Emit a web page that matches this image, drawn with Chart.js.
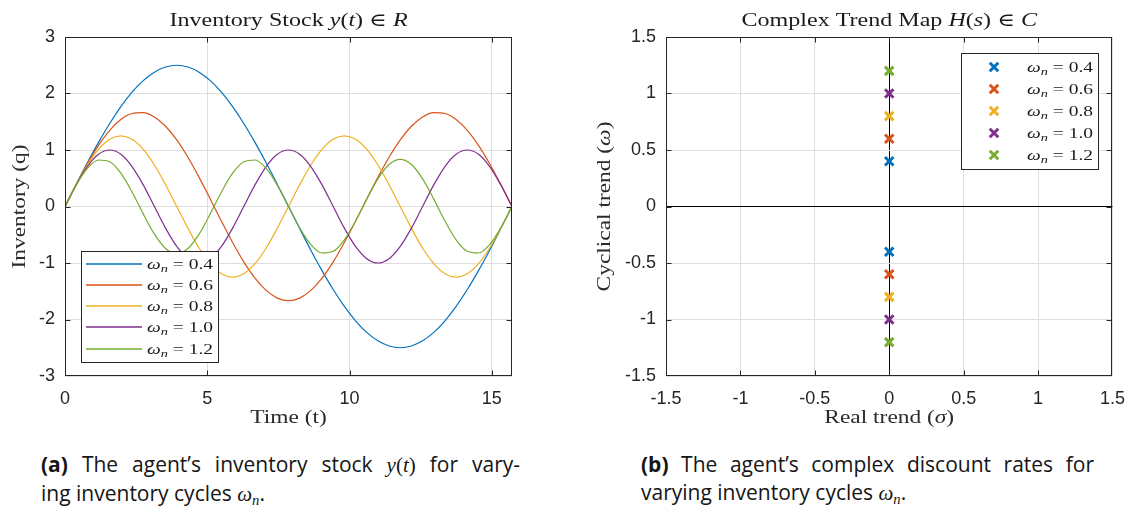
<!DOCTYPE html>
<html>
<head>
<meta charset="utf-8">
<title>Inventory cycles</title>
<script src="https://cdn.jsdelivr.net/npm/chart.js@4.4.1/dist/chart.umd.min.js"></script>
<style>
  html, body { margin: 0; padding: 0; background: #ffffff; }
  #page { position: relative; width: 1129px; height: 512px; overflow: hidden; background: #fff; }
  canvas { position: absolute; top: 0; }
  #stockChart { left: 0; }
  #planeChart { left: 560px; }
  .cap { position: absolute; font-family: "Open Sans", "Noto Sans", sans-serif; font-size: 21px;
         line-height: 28px; color: #151515; }
  .cap b { font-weight: 700; }
  .cap .just { text-align: justify; text-align-last: justify; }
  .m { font-family: "Liberation Serif", "DejaVu Serif", serif; font-size: 21px; }
  .m i { font-style: italic; }
  .m sub { font-size: 0.7em; vertical-align: -0.25em; line-height: 0; }
</style>
</head>
<body>
<div id="page">
  <canvas id="stockChart" width="560" height="440"></canvas>
  <canvas id="planeChart" width="577" height="440"></canvas>

  <div class="cap" style="left:41px; top:450px; width:479px;">
    <div class="just"><b>(a)</b> The agent’s inventory stock <span class="m"><i>y</i>(<i>t</i>)</span> for vary-</div>
    <div>ing inventory cycles <span class="m"><i>ω</i><sub><i>n</i></sub></span>.</div>
  </div>
  <div class="cap" style="left:641px; top:450px; width:453px;">
    <div class="just"><b>(b)</b> The agent’s complex discount rates for</div>
    <div>varying inventory cycles <span class="m"><i>ω</i><sub><i>n</i></sub></span>.</div>
  </div>
</div>

<script>
// ---- data ---------------------------------------------------------------
const omegaLabels = ['0.4', '0.6', '0.8', '1.0', '1.2'];
const seriesColors = ['#0072BD', '#D95319', '#EDB120', '#7E2F8E', '#77AC30'];

// time samples over 0 .. 5π
const timeValues = [0, 0.393, 0.785, 1.178, 1.571, 1.963, 2.356, 2.749, 3.142, 3.534,
  3.927, 4.320, 4.712, 5.105, 5.498, 5.890, 6.283, 6.676, 7.069, 7.461,
  7.854, 8.247, 8.639, 9.032, 9.425, 9.817, 10.210, 10.603, 10.996, 11.388,
  11.781, 12.174, 12.566, 12.959, 13.352, 13.744, 14.137, 14.530, 14.923, 15.315, 15.708];

// inventory stock y(t) for each cycle frequency
const stock04 = [0, 0.391, 0.773, 1.135, 1.470, 1.768, 2.023, 2.228, 2.378, 2.469,
  2.500, 2.469, 2.378, 2.228, 2.023, 1.768, 1.470, 1.135, 0.773, 0.391,
  0, -0.391, -0.773, -1.135, -1.470, -1.768, -2.023, -2.228, -2.378, -2.469,
  -2.500, -2.469, -2.378, -2.228, -2.023, -1.768, -1.470, -1.135, -0.773, -0.391, 0];
const stock06 = [0, 0.389, 0.757, 1.082, 1.348, 1.540, 1.646, 1.662, 1.585, 1.421,
  1.179, 0.871, 0.515, 0.131, -0.261, -0.638, -0.980, -1.267, -1.485, -1.621,
  -1.667, -1.621, -1.485, -1.267, -0.980, -0.638, -0.261, 0.131, 0.515, 0.871,
  1.179, 1.421, 1.585, 1.662, 1.646, 1.540, 1.348, 1.082, 0.757, 0.389, 0];
const stock08 = [0, 0.386, 0.735, 1.011, 1.189, 1.250, 1.189, 1.011, 0.735, 0.386,
  0, -0.386, -0.735, -1.011, -1.189, -1.250, -1.189, -1.011, -0.735, -0.386,
  0, 0.386, 0.735, 1.011, 1.189, 1.250, 1.189, 1.011, 0.735, 0.386,
  0, -0.386, -0.735, -1.011, -1.189, -1.250, -1.189, -1.011, -0.735, -0.386, 0];
const stock10 = [0, 0.383, 0.707, 0.924, 1, 0.924, 0.707, 0.383, 0, -0.383,
  -0.707, -0.924, -1, -0.924, -0.707, -0.383, 0, 0.383, 0.707, 0.924,
  1, 0.924, 0.707, 0.383, 0, -0.383, -0.707, -0.924, -1, -0.924,
  -0.707, -0.383, 0, 0.383, 0.707, 0.924, 1, 0.924, 0.707, 0.383, 0];
const stock12 = [0, 0.378, 0.674, 0.823, 0.793, 0.589, 0.258, -0.130, -0.490, -0.743,
  -0.833, -0.743, -0.490, -0.130, 0.258, 0.589, 0.793, 0.823, 0.674, 0.378,
  0, -0.378, -0.674, -0.823, -0.793, -0.589, -0.258, 0.130, 0.490, 0.743,
  0.833, 0.743, 0.490, 0.130, -0.258, -0.589, -0.793, -0.823, -0.674, -0.378, 0];
const stockSeries = [stock04, stock06, stock08, stock10, stock12];

const timeTicks = [0, 5, 10, 15];
const stockTicks = [-3, -2, -1, 0, 1, 2, 3];

// discount-rate poles s = σ ± iω
const poleReal = [0, 0, 0, 0, 0];
const poleImag = [0.4, 0.6, 0.8, 1.0, 1.2];
const planeTicks = [-1.5, -1, -0.5, 0, 0.5, 1, 1.5];

// ---- styling -------------------------------------------------------------
const FRAME = '#262626';
const TICK_TEXT = '#262626';
const LABEL_TEXT = '#2b2b2b';
const GRID = '#dedede';
const SANS = '"Liberation Sans", Arial, sans-serif';
const SERIF = '"Liberation Serif", "DejaVu Serif", serif';
const H_SCALE = 1.3;

// ---- mixed-style text (upright / italic / subscript) --------------------
function segFont(s, size) {
  const sz = s.sub ? Math.round(size * 0.7) : size;
  return (s.i ? 'italic ' : '') + sz + 'px ' + SERIF;
}
function richWidth(ctx, segs, size) {
  let w = 0;
  for (const s of segs) { ctx.font = segFont(s, size); w += ctx.measureText(s.t).width; }
  return w;
}
function drawRich(ctx, segs, x, y, size, align) {
  ctx.save();
  ctx.translate(x, y);
  ctx.scale(H_SCALE, 1);
  ctx.textAlign = 'left';
  ctx.textBaseline = 'alphabetic';
  const w = richWidth(ctx, segs, size);
  let cx = align === 'center' ? -w / 2 : (align === 'right' ? -w : 0);
  for (const s of segs) {
    ctx.font = segFont(s, size);
    ctx.fillText(s.t, cx, s.sub ? size * 0.22 : 0);
    cx += ctx.measureText(s.t).width;
  }
  ctx.restore();
}
function legendText(label) {
  return [{ t: 'ω', i: 1 }, { t: 'n', i: 1, sub: 1 }, { t: ' = ' + label }];
}

// ---- axes box, inward ticks, titles, labels, legend ------------------------
const decorPlugin = {
  id: 'decor',
  afterDraw(chart, args, o) {
    const ctx = chart.ctx;
    const ca = chart.chartArea;
    const xs = chart.scales.x, ys = chart.scales.y;
    ctx.save();

    const L = Math.round(ca.left) + 0.5, R = Math.round(ca.right) - 0.5;
    const T = Math.round(ca.top) + 0.5, B = Math.round(ca.bottom) - 0.5;
    ctx.strokeStyle = FRAME;
    ctx.lineWidth = 1;
    ctx.strokeRect(L, T, R - L, B - T);

    const tl = 5;
    ctx.beginPath();
    for (const v of o.xTicks) {
      const p = Math.round(xs.getPixelForValue(v)) + 0.5;
      if (p <= L + 1 || p >= R - 1) continue;
      ctx.moveTo(p, B); ctx.lineTo(p, B - tl);
      ctx.moveTo(p, T); ctx.lineTo(p, T + tl);
    }
    for (const v of o.yTicks) {
      const p = Math.round(ys.getPixelForValue(v)) + 0.5;
      if (p <= T + 1 || p >= B - 1) continue;
      ctx.moveTo(L, p); ctx.lineTo(L + tl, p);
      ctx.moveTo(R, p); ctx.lineTo(R - tl, p);
    }
    ctx.stroke();

    const midX = (ca.left + ca.right) / 2;
    const midY = (ca.top + ca.bottom) / 2;
    ctx.fillStyle = '#1a1a1a';
    drawRich(ctx, o.title, midX, ca.top - 11, 18.5, 'center');
    ctx.fillStyle = LABEL_TEXT;
    drawRich(ctx, o.xLabel, midX, ca.bottom + 47, 18, 'center');
    ctx.save();
    ctx.translate(ca.left - o.yLabelGap, midY);
    ctx.rotate(-Math.PI / 2);
    drawRich(ctx, o.yLabel, 0, 0, 18, 'center');
    ctx.restore();

    // legend
    const lg = o.legend;
    const bx = Math.round(lg.right !== undefined ? ca.right - lg.right - lg.width : ca.left + lg.left);
    const by = Math.round(lg.top !== undefined ? ca.top + lg.top : ca.bottom - lg.bottom - lg.height);
    ctx.fillStyle = '#ffffff';
    ctx.fillRect(bx, by, lg.width, lg.height);
    ctx.strokeStyle = FRAME;
    ctx.lineWidth = 1;
    ctx.strokeRect(bx + 0.5, by + 0.5, lg.width, lg.height);
    for (let i = 0; i < chart.data.datasets.length; i++) {
      const ry = Math.round(by + lg.firstRow + i * lg.rowGap);
      if (lg.kind === 'line') {
        ctx.beginPath();
        ctx.strokeStyle = seriesColors[i];
        ctx.lineWidth = 1.4;
        ctx.moveTo(bx + 5, ry);
        ctx.lineTo(bx + 61, ry);
        ctx.stroke();
      } else {
        const d = 6 * Math.SQRT1_2;
        const mx = bx + 33;
        ctx.beginPath();
        ctx.strokeStyle = seriesColors[i];
        ctx.lineWidth = 3;
        ctx.moveTo(mx - d, ry - d); ctx.lineTo(mx + d, ry + d);
        ctx.moveTo(mx + d, ry - d); ctx.lineTo(mx - d, ry + d);
        ctx.stroke();
      }
      ctx.fillStyle = '#1a1a1a';
      drawRich(ctx, legendText(omegaLabels[i]), bx + 66, ry + 5, 15, 'left');
    }
    ctx.restore();
  }
};

function fixedTicks(values) {
  return scale => { scale.ticks = values.map(v => ({ value: v })); };
}
function tickStyle(padding) {
  return {
    padding: padding, color: TICK_TEXT, autoSkip: false, maxRotation: 0,
    font: { family: SANS, size: 18 },
    callback: v => String(v)
  };
}

// ---- (a) inventory stock over time ---------------------------------------
new Chart(document.getElementById('stockChart'), {
  type: 'line',
  data: {
    datasets: stockSeries.map((ys, i) => ({
      label: 'ω_n = ' + omegaLabels[i],
      data: timeValues.map((t, k) => ({ x: t, y: ys[k] })),
      borderColor: seriesColors[i],
      borderWidth: 1.2,
      pointRadius: 0,
      fill: false,
      cubicInterpolationMode: 'monotone',
      order: stockSeries.length - i
    }))
  },
  options: {
    responsive: false,
    animation: false,
    layout: { padding: { left: 0, right: 48, top: 37, bottom: 24 } },
    plugins: {
      legend: { display: false },
      tooltip: { enabled: false },
      decor: {
        title: [{ t: 'Inventory Stock ' }, { t: 'y', i: 1 }, { t: '(' }, { t: 't', i: 1 }, { t: ')' }, { t: ' ∈ ' }, { t: 'R', i: 1 }],
        xLabel: [{ t: 'Time (t)' }],
        yLabel: [{ t: 'Inventory (q)' }],
        yLabelGap: 40,
        xTicks: timeTicks,
        yTicks: stockTicks,
        legend: { kind: 'line', left: 16, bottom: 14, width: 137, height: 111, firstRow: 12.5, rowGap: 21.3 }
      }
    },
    scales: {
      x: {
        type: 'linear', min: 0, max: 15.708,
        afterBuildTicks: fixedTicks(timeTicks),
        afterFit: s => { s.height = 40; },
        grid: { color: GRID, drawTicks: false },
        border: { display: false },
        ticks: tickStyle(12)
      },
      y: {
        type: 'linear', min: -3, max: 3,
        afterBuildTicks: fixedTicks(stockTicks),
        afterFit: s => { s.width = 65; },
        grid: { color: GRID, drawTicks: false },
        border: { display: false },
        ticks: tickStyle(10)
      }
    }
  },
  plugins: [decorPlugin]
});

// ---- (b) complex discount rates ------------------------------------------
new Chart(document.getElementById('planeChart'), {
  type: 'scatter',
  data: {
    datasets: poleImag.map((w, i) => ({
      label: 'ω_n = ' + omegaLabels[i],
      data: [{ x: poleReal[i], y: w }, { x: poleReal[i], y: -w }],
      pointStyle: 'crossRot',
      pointRadius: 6,
      pointBorderWidth: 3,
      borderWidth: 3,
      borderColor: seriesColors[i],
      backgroundColor: seriesColors[i]
    }))
  },
  options: {
    responsive: false,
    animation: false,
    layout: { padding: { left: 0, right: 18, top: 37, bottom: 24 } },
    plugins: {
      legend: { display: false },
      tooltip: { enabled: false },
      decor: {
        title: [{ t: 'Complex Trend Map ' }, { t: 'H', i: 1 }, { t: '(' }, { t: 's', i: 1 }, { t: ')' }, { t: ' ∈ ' }, { t: 'C', i: 1 }],
        xLabel: [{ t: 'Real trend (' }, { t: 'σ', i: 1 }, { t: ')' }],
        yLabel: [{ t: 'Cyclical trend (' }, { t: 'ω', i: 1 }, { t: ')' }],
        yLabelGap: 56,
        xTicks: planeTicks,
        yTicks: planeTicks,
        legend: { kind: 'marker', right: 14, top: 16, width: 137, height: 116, firstRow: 14, rowGap: 22 }
      }
    },
    scales: {
      x: {
        type: 'linear', min: -1.5, max: 1.5,
        afterBuildTicks: fixedTicks(planeTicks),
        afterFit: s => { s.height = 40; },
        grid: { color: c => (c.tick && c.tick.value === 0 ? '#000000' : GRID), drawTicks: false },
        border: { display: false },
        ticks: tickStyle(12)
      },
      y: {
        type: 'linear', min: -1.5, max: 1.5,
        afterBuildTicks: fixedTicks(planeTicks),
        afterFit: s => { s.width = 106; },
        grid: { color: c => (c.tick && c.tick.value === 0 ? '#000000' : GRID), drawTicks: false },
        border: { display: false },
        ticks: tickStyle(10)
      }
    }
  },
  plugins: [decorPlugin]
});
</script>
</body>
</html>
